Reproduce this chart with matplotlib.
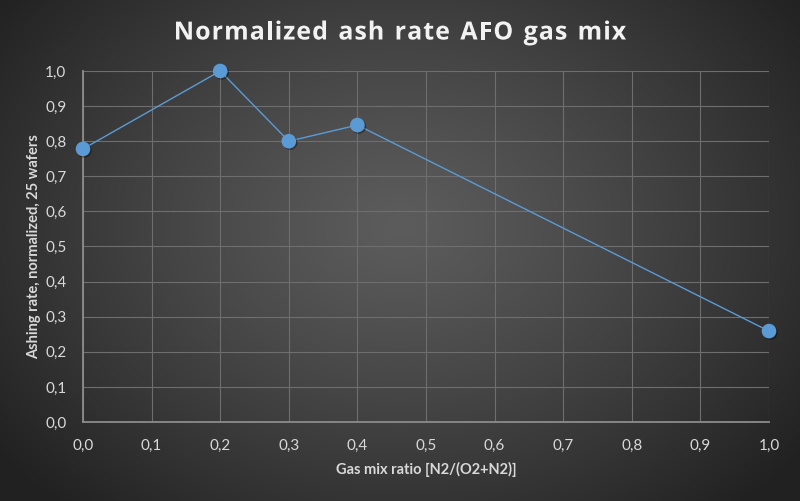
import numpy as np
import matplotlib
matplotlib.use("Agg")
import matplotlib.pyplot as plt
from matplotlib.ticker import FuncFormatter, MultipleLocator
import matplotlib.patheffects as pe

x_vals = [0.0, 0.2, 0.3, 0.4, 1.0]
y_vals = [0.778, 1.0, 0.80, 0.846, 0.259]
title = "Normalized ash rate AFO gas mix"
xlabel = "Gas mix ratio [N2/(O2+N2)]"
ylabel = "Ashing rate, normalized, 25 wafers"

plt.rcParams['font.family'] = ['Lato', 'DejaVu Sans']

fig = plt.figure(figsize=(8, 5.01), dpi=100)

# radial gradient background
bg = fig.add_axes([0, 0, 1, 1], zorder=-10)
H, W = 501, 800
yy, xx = np.mgrid[0:H, 0:W]
cx, cy = W * 0.5, H * 0.45
r = np.sqrt(((xx - cx) / (W * 0.62)) ** 2 + ((yy - cy) / (H * 0.75)) ** 2)
r = np.clip(r, 0, 1)
inner, outer = 0x5c, 0x22
val = (inner + (outer - inner) * r ** 1.2) / 255.0
img = np.dstack([val, val, val])
bg.imshow(img, aspect='auto', extent=[0, 1, 0, 1], origin='upper')
bg.axis('off')

ax = fig.add_axes([83 / 800, 1 - 422 / 501, (769 - 83) / 800, (422 - 71) / 501])
ax.set_facecolor('none')
ax.set_xlim(0, 1.0)
ax.set_ylim(0, 1.0)
ax.xaxis.set_major_locator(MultipleLocator(0.1))
ax.yaxis.set_major_locator(MultipleLocator(0.1))
fmt = FuncFormatter(lambda v, p: f"{v:.1f}".replace('.', ','))
ax.xaxis.set_major_formatter(fmt)
ax.yaxis.set_major_formatter(fmt)
ax.grid(True, color='#6e6e6e', linewidth=0.8)
ax.set_axisbelow(True)
for s in ['top', 'right']:
    ax.spines[s].set_visible(False)
for s in ['bottom', 'left']:
    ax.spines[s].set_color('#8c8c8c')
    ax.spines[s].set_linewidth(1.3)
ax.tick_params(length=0, colors='#d9d9d9', labelsize=11, pad=12)

ax.plot(x_vals, y_vals, color='#5b9bd5', linewidth=1.0, zorder=4, clip_on=False)
ax.plot(x_vals, y_vals, linestyle='none', marker='o',
        markersize=9.5, markerfacecolor='#5b9bd5', markeredgecolor='#5b9bd5',
        clip_on=False, zorder=5,
        path_effects=[pe.SimpleLineShadow(offset=(1, -1), alpha=0.4), pe.Normal()])

ax.set_xlabel(xlabel, color='#d9d9d9', fontsize=10.5, fontweight='bold', labelpad=7)
ax.set_ylabel(ylabel, color='#d9d9d9', fontsize=10.5, fontweight='bold', labelpad=3)

# title with letter spacing: lay out characters individually
fig.canvas.draw()
renderer = fig.canvas.get_renderer()
tprops = dict(color='#f2f2f2', fontsize=18, fontweight='bold',
              family=['Open Sans', 'DejaVu Sans'], va='center', ha='left')
spacing = 1.0  # px between characters
widths = []
for ch in title:
    if ch == ' ':
        tt = fig.text(0, 0, 'a', **tprops)
        w = tt.get_window_extent(renderer).width * 0.55
    else:
        tt = fig.text(0, 0, ch, **tprops)
        w = tt.get_window_extent(renderer).width
    tt.remove()
    widths.append(w)
total = sum(widths) + spacing * (len(title) - 1)
xpos = 400 - total / 2
ypos = 1 - 33 / 501
for ch, w in zip(title, widths):
    if ch != ' ':
        t = fig.text(xpos / 800, ypos, ch, **tprops)
        t.set_path_effects([pe.SimpleLineShadow(offset=(1.5, -1.5), alpha=0.5), pe.Normal()])
    xpos += w + spacing

fig.savefig('out.png', dpi=100)
